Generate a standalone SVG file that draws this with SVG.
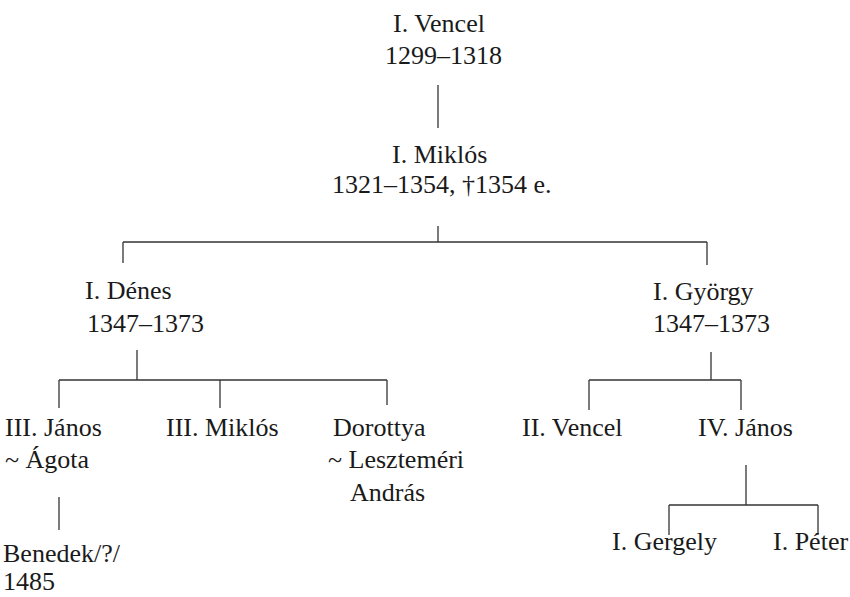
<svg xmlns="http://www.w3.org/2000/svg" width="850" height="597" viewBox="0 0 850 597">
<style>
text{font-family:"Liberation Serif","Times New Roman",serif;font-size:26px;fill:#1a1a1a}
.c line{stroke:#333;stroke-width:1.3}
</style>
<rect width="850" height="597" fill="#fff"/>
<g class="c" id="connectors">
<line x1="438" y1="85" x2="438" y2="128"/>
<line x1="438" y1="226" x2="438" y2="242"/>
<line x1="123" y1="242" x2="707" y2="242"/>
<line x1="123" y1="242" x2="123" y2="263"/>
<line x1="707" y1="242" x2="707" y2="265"/>
<line x1="137" y1="350" x2="137" y2="380"/>
<line x1="59" y1="380" x2="387" y2="380"/>
<line x1="59" y1="380" x2="59" y2="408"/>
<line x1="220" y1="380" x2="220" y2="408"/>
<line x1="387" y1="380" x2="387" y2="405"/>
<line x1="59" y1="497" x2="59" y2="530"/>
<line x1="711" y1="352" x2="711" y2="380"/>
<line x1="589" y1="380" x2="741" y2="380"/>
<line x1="589" y1="380" x2="589" y2="410"/>
<line x1="741" y1="380" x2="741" y2="410"/>
<line x1="746" y1="465" x2="746" y2="505"/>
<line x1="669" y1="505" x2="818" y2="505"/>
<line x1="669" y1="505" x2="669" y2="535"/>
<line x1="818" y1="505" x2="818" y2="535"/>
</g>
<g id="vencel1"><text x="393" y="32">I. Vencel</text><text x="385" y="64">1299–1318</text></g>
<g id="miklos1"><text x="392" y="163">I. Miklós</text><text x="332" y="193">1321–1354, †1354 e.</text></g>
<g id="denes1"><text x="85" y="299">I. Dénes</text><text x="87" y="332">1347–1373</text></g>
<g id="gyorgy1"><text x="653" y="300">I. György</text><text x="653" y="332">1347–1373</text></g>
<g id="janos3"><text x="5" y="436">III. János</text><text x="5" y="468">~ Ágota</text></g>
<g id="benedek"><text x="3" y="562">Benedek/?/</text><text x="3" y="590">1485</text></g>
<g id="miklos3"><text x="166" y="436">III. Miklós</text></g>
<g id="dorottya"><text x="333" y="436">Dorottya</text><text x="328" y="468">~ Leszteméri</text><text x="350" y="501">András</text></g>
<g id="vencel2"><text x="522" y="436">II. Vencel</text></g>
<g id="janos4"><text x="698" y="436">IV. János</text></g>
<g id="gergely1"><text x="612" y="550">I. Gergely</text></g>
<g id="peter1"><text x="773" y="550">I. Péter</text></g>
</svg>
